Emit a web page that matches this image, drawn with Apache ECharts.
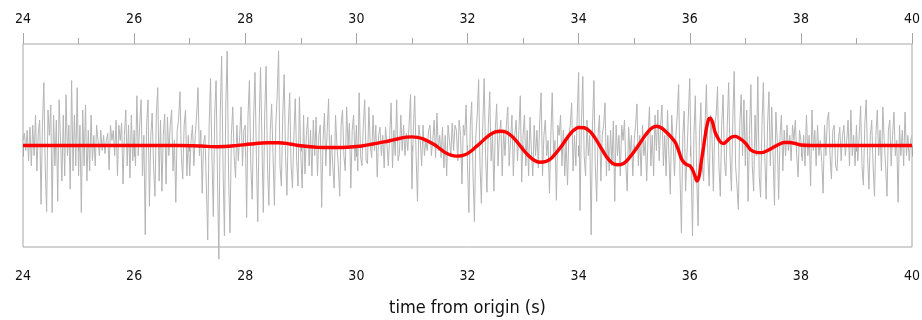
<!DOCTYPE html>
<html>
<head>
<meta charset="utf-8">
<script src="https://cdn.jsdelivr.net/npm/echarts@6/dist/echarts.min.js"></script>
<style>
html,body{margin:0;padding:0;background:#fff;}
#chart{width:922px;height:320px;}
</style>
</head>
<body>
<div id="chart"></div>
<script>
// x-axis ticks
var xMin = 24, xMax = 40, xInterval = 2;
var axisTitle = 'time from origin (s)';

// grey raw signal: sampled every 0.025 s starting at 24 s
var signalStart = 24, signalStep = 0.025;
var signalValues = [
 0.05,0.12,-0.05,0.15,-0.15,0.18,-0.2,0.2,-0.1,0.3,-0.25,0.12,0.25,-0.58,0.2,0.62,-0.2,-0.65,0.35,0.1,
 0.4,-0.66,0.3,-0.2,0.25,-0.55,0.45,0.05,-0.35,0.3,-0.3,0.5,-0.1,0.2,-0.43,0.64,-0.25,0.3,-0.2,0.57,
 -0.3,0.2,-0.66,0.35,-0.2,0.4,-0.35,0.15,-0.25,0.3,-0.15,0.1,-0.2,0.2,0.05,-0.1,0.15,-0.05,0.1,-0.08,
 0.05,0.12,-0.24,0.2,0.05,0.15,-0.1,0.25,-0.3,0.2,0.05,0.22,-0.38,0.1,0.35,-0.2,0.2,-0.32,0.3,-0.15,
 0.15,-0.2,0.49,-0.1,0.2,0.45,-0.3,0.1,-0.88,0.2,0.45,-0.6,0.1,0.32,-0.2,-0.5,0.3,0.57,-0.35,0.25,
 -0.45,0.1,0.31,-0.38,0.28,-0.1,0.2,0.35,-0.25,0.05,-0.56,0.15,0.25,0.53,-0.1,-0.33,0.2,0.35,-0.3,0.1,
 -0.3,0.05,0.2,-0.2,0.1,0.3,0.57,-0.1,0.15,-0.47,0.03,0.1,-0.4,-0.93,0.2,0.66,-0.1,-0.7,0.3,0.64,
 -0.3,-1.12,0.3,0.88,-0.2,-0.89,0.4,0.93,-0.3,-0.86,0.1,0.38,-0.1,-0.32,0.2,-0.15,0.1,0.38,-0.2,0.15,
 0.2,-0.71,0.3,0.64,-0.2,-0.53,0.25,0.72,-0.1,-0.75,0.2,0.77,0.05,-0.66,0.3,0.78,-0.2,-0.59,0.15,0.41,
 -0.1,-0.59,0.2,0.5,0.93,-0.2,-0.4,0.3,0.7,-0.1,-0.49,0.2,0.52,-0.2,-0.42,0.1,0.46,-0.15,-0.4,0.48,
 -0.1,-0.42,0.3,-0.28,0.1,0.28,-0.2,0.15,-0.3,0.25,-0.1,0.28,-0.3,0.1,0.2,-0.61,0.05,0.32,-0.2,0.15,
 0.46,-0.3,0.1,-0.2,-0.42,0.3,0.0,-0.2,-0.5,0.2,0.35,-0.1,-0.25,0.38,0.0,0.22,-0.42,0.15,0.3,-0.15,
 0.2,-0.25,0.52,-0.1,-0.2,0.2,0.45,-0.15,-0.18,0.38,0.0,-0.12,0.3,-0.05,0.2,-0.31,0.1,0.18,-0.1,0.1,
 -0.22,0.18,0.02,-0.2,0.1,0.42,-0.22,0.15,-0.1,0.45,-0.15,-0.08,0.3,-0.05,0.2,-0.1,0.12,-0.05,0.22,0.5,
 -0.43,0.15,0.49,-0.1,-0.55,0.2,0.05,-0.2,0.2,-0.1,0.05,-0.05,0.15,0.2,-0.1,0.05,0.25,-0.12,0.32,-0.05,
 0.1,-0.12,0.18,-0.22,0.1,-0.3,0.2,0.05,-0.1,0.22,-0.05,0.2,0.15,-0.15,0.25,0.1,-0.38,0.2,0.1,0.4,
 -0.2,-0.66,0.2,0.43,-0.3,-0.75,0.1,0.3,0.65,-0.2,-0.57,0.2,0.66,-0.1,-0.46,0.2,0.53,-0.15,0.1,-0.45,
 0.15,0.41,-0.2,0.1,0.25,-0.3,0.15,-0.1,0.2,0.38,-0.2,0.05,0.3,-0.3,0.1,0.25,-0.15,0.15,0.49,-0.36,
 0.1,0.3,-0.2,0.15,-0.3,0.28,-0.05,-0.3,0.2,-0.1,0.15,-0.22,0.25,0.52,-0.3,0.1,0.25,-0.1,0.05,-0.47,
 0.1,0.52,-0.1,0.05,-0.54,0.2,0.1,0.3,-0.2,0.15,-0.3,0.05,-0.39,0.1,0.2,0.42,-0.25,0.1,-0.2,0.3,
 0.72,-0.64,0.2,0.68,-0.1,-0.3,0.25,-0.1,0.1,-0.88,0.2,0.64,-0.2,-0.55,0.1,0.3,-0.35,0.1,0.2,0.42,
 -0.3,0.1,-0.25,0.15,-0.2,0.24,-0.55,0.2,-0.1,0.1,-0.3,0.2,0.05,0.25,-0.2,-0.45,0.18,-0.1,0.1,-0.3,
 0.05,0.2,0.41,-0.2,0.1,-0.3,0.2,-0.1,0.05,-0.35,0.1,0.38,-0.2,0.1,-0.3,0.3,-0.05,0.35,-0.15,0.2,
 0.4,-0.2,0.1,-0.3,0.35,-0.1,-0.48,0.3,0.05,-0.3,0.1,0.3,0.6,-0.3,-0.86,0.1,0.34,-0.45,-0.1,0.3,
 0.66,-0.2,-0.89,0.1,0.49,-0.3,-0.79,0.1,0.42,-0.2,-0.35,0.2,0.6,-0.1,-0.4,0.3,0.1,-0.45,0.2,0.3,
 0.58,-0.2,-0.5,0.2,0.5,-0.15,-0.3,0.2,0.62,-0.1,-0.45,0.25,0.73,-0.2,-0.4,-0.63,0.2,0.5,-0.1,0.45,
 -0.2,0.35,-0.55,0.1,0.6,-0.2,-0.45,0.3,-0.1,0.68,-0.3,-0.51,0.2,0.62,-0.1,-0.53,0.2,0.53,-0.2,0.38,
 -0.1,-0.59,0.33,0.05,-0.53,0.1,0.3,-0.25,0.15,-0.1,0.2,-0.05,0.1,-0.15,0.2,0.05,0.25,-0.1,-0.31,0.15,
 0.05,-0.15,0.1,-0.2,0.3,-0.1,0.1,-0.4,0.35,-0.05,0.15,-0.2,0.2,-0.1,0.05,-0.15,-0.47,0.2,-0.1,0.25,
 0.33,-0.1,-0.33,0.15,0.2,-0.2,-0.25,0.05,0.18,-0.15,0.1,0.2,-0.1,0.05,0.25,-0.2,0.35,-0.1,0.1,-0.2,
 0.2,-0.15,0.1,0.39,-0.2,-0.39,0.2,0.45,-0.1,-0.43,0.1,0.25,-0.2,-0.5,0.1,0.35,-0.1,0.15,-0.25,0.38,
 0.05,-0.2,-0.5,0.15,0.25,-0.2,0.1,0.33,-0.1,0.05,-0.56,0.2,-0.1,0.15,-0.2,0.33,-0.1,0.1,-0.15,0.05,
 0.1
];

// red smoothed trace
var traceTime = [24.0,25.0,26.0,26.8,27.2,27.5,27.8,28.1,28.4,28.6,28.8,29.0,29.3,29.6,29.9,30.1,30.3,30.5,30.7,30.9,
 31.0,31.1,31.2,31.3,31.4,31.5,31.6,31.7,31.8,31.9,32.0,32.1,32.2,32.3,32.4,32.5,32.6,32.7,32.8,32.9,
 33.0,33.1,33.2,33.3,33.4,33.5,33.6,33.7,33.8,33.9,34.0,34.1,34.2,34.3,34.4,34.5,34.6,34.7,34.8,34.9,
 35.0,35.1,35.2,35.3,35.4,35.5,35.6,35.7,35.75,35.8,35.85,35.9,35.95,36.0,36.05,36.1,36.13,36.17,36.21,36.25,
 36.3,36.34,36.37,36.41,36.45,36.49,36.53,36.57,36.61,36.67,36.74,36.82,36.9,37.0,37.1,37.2,37.3,37.4,37.5,37.6,
 37.7,37.8,37.9,38.0,38.2,39.0,40.0];
var traceValue = [0,0,0,0,-0.005,-0.012,-0.003,0.015,0.027,0.027,0.015,-0.003,-0.018,-0.02,-0.015,-0.005,0.015,0.035,0.06,0.083,
 0.085,0.08,0.065,0.04,0.01,-0.03,-0.07,-0.095,-0.105,-0.1,-0.08,-0.04,0.01,0.06,0.105,0.135,0.14,0.13,0.09,0.03,
 -0.04,-0.1,-0.145,-0.165,-0.16,-0.13,-0.07,0.0,0.08,0.145,0.178,0.175,0.14,0.07,-0.02,-0.11,-0.17,-0.19,-0.18,-0.13,
 -0.06,0.02,0.1,0.165,0.19,0.17,0.12,0.06,0.02,-0.05,-0.13,-0.17,-0.19,-0.2,-0.24,-0.31,-0.35,-0.3,-0.15,-0.01,
 0.17,0.26,0.27,0.23,0.14,0.09,0.05,0.025,0.02,0.045,0.08,0.09,0.07,0.025,-0.045,-0.068,-0.07,-0.05,-0.02,0.01,
 0.03,0.03,0.02,0.005,0,0,0];

var greyData = signalValues.map(function(v, i){ return [signalStart + i*signalStep, v]; });
var redData = traceTime.map(function(t, i){ return [t, traceValue[i]]; });

var chart = echarts.init(document.getElementById('chart'), null, {renderer:'canvas'});
var axisGrey = '#a6a6a6';
var labelFont = '"Liberation Sans Narrow", "DejaVu Sans Condensed", sans-serif';
function xAxisDef(pos){
  return {
    type:'value', position:pos, min:xMin, max:xMax, interval:xInterval,
    axisLine:{show:false},
    axisTick:{show:true, inside:false, length:11, lineStyle:{color:axisGrey, width:1}},
    minorTick:{show:true, splitNumber:2, length:6, lineStyle:{color:axisGrey, width:1}},
    splitLine:{show:false}, minorSplitLine:{show:false},
    axisLabel:{show:true, margin: pos==='top'?18:22, color:'#111', fontFamily:labelFont, fontSize:14},
    name: pos==='bottom' ? axisTitle : '',
    nameLocation:'middle', nameGap:52,
    nameTextStyle:{color:'#111', fontFamily:labelFont, fontSize:18}
  };
}
chart.setOption({
  animation:false,
  backgroundColor:'#fff',
  grid:{left:23, right:10, top:44, bottom:73, outerBoundsMode:'none', containLabel:false, show:true, borderColor:axisGrey, borderWidth:1, backgroundColor:'transparent'},
  xAxis:[xAxisDef('bottom'), xAxisDef('top')],
  yAxis:{type:'value', min:-1, max:1, show:false},
  series:[
    {type:'line', data:greyData, showSymbol:false, clip:false, lineStyle:{color:'#b5b5b5', width:1}, z:2},
    {type:'line', data:redData, showSymbol:false, smooth:0.3, clip:false, lineStyle:{color:'#ff0000', width:3.4}, z:3}
  ]
});
</script>
</body>
</html>
